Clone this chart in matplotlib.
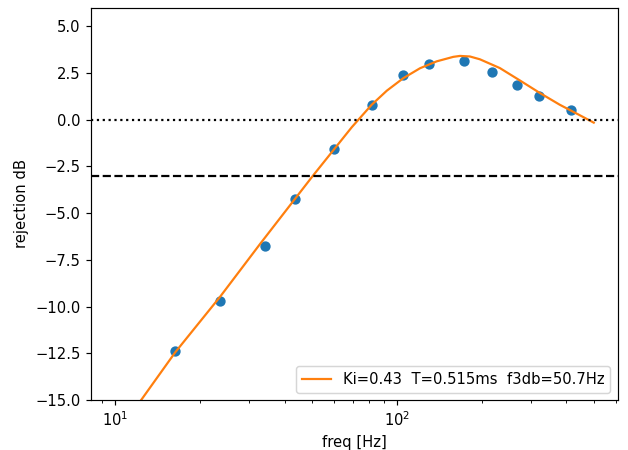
import matplotlib
matplotlib.use("Agg")
import matplotlib.pyplot as plt

# Measured rejection at each test frequency
meas_freq = [16.36, 23.68, 34.18, 43.64, 59.98, 81.5, 105.0, 130.5, 173.5, 217.5, 267.3, 319.9, 414.2]
meas_db = [-12.40, -9.72, -6.78, -4.27, -1.56, 0.78, 2.40, 2.97, 3.12, 2.56, 1.85, 1.27, 0.49]

# Model rejection curve
model_freq = [10.0, 12.43, 16.36, 23.68, 32.81, 50.41, 69.28, 74.13, 81.5, 92.2, 105.5, 120.9,
              138.6, 158.7, 167.6, 181.8, 197.2, 232.2, 273.3, 321.7, 378.6, 445.7, 500.0]
model_db = [-16.9, -14.97, -12.45, -9.45, -6.63, -3.00, -0.40, 0.10, 0.80, 1.55, 2.22, 2.75,
            3.12, 3.36, 3.41, 3.38, 3.23, 2.76, 2.10, 1.43, 0.80, 0.24, -0.16]
model_label = "Ki=0.43  T=0.515ms  f3db=50.7Hz"

DPI = 106
fig = plt.figure(figsize=(628 / DPI, 450 / DPI), dpi=DPI)
ax = fig.add_axes([0.1449, 0.1111, 0.8387, 0.8722])

ax.scatter(meas_freq, meas_db, color="C0")
ax.plot(model_freq, model_db, color="C1", label=model_label)
ax.axhline(0, color="k", linestyle=":")
ax.axhline(-3, color="k", linestyle="--")

ax.set_xscale("log")
ax.set_xlim(10 ** 0.915, 10 ** 2.784)
ax.set_ylim(-15, 6)
ax.set_xlabel("freq [Hz]")
ax.set_ylabel("rejection dB")
ax.legend(loc="lower right")

fig.savefig("out.png", dpi=DPI)
